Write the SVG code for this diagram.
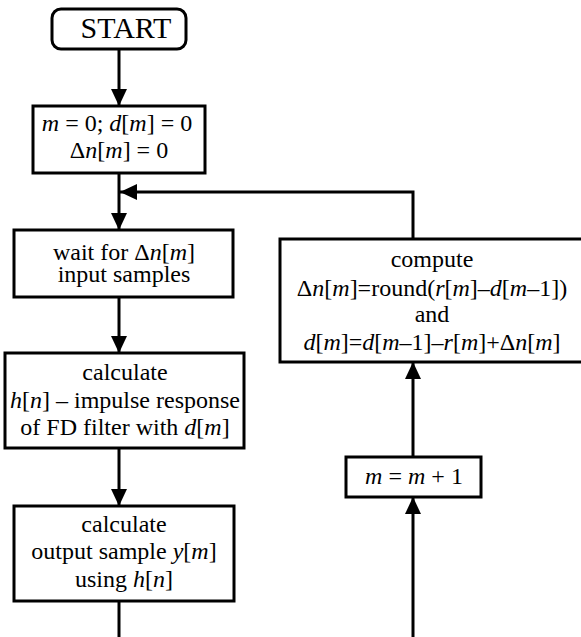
<svg xmlns="http://www.w3.org/2000/svg" width="581" height="637" viewBox="0 0 581 637">
<style>
.box{fill:#fff;stroke:#000;stroke-width:3}
.ln{fill:none;stroke:#000;stroke-width:3}
.t{font-family:'Liberation Serif','Times New Roman',serif;font-size:24px;fill:#000;text-anchor:middle}
.big{font-size:30px}
.i{font-style:italic}
</style>
<defs>
<marker id="ah" markerUnits="userSpaceOnUse" markerWidth="18" markerHeight="16" refX="17" refY="8" orient="auto">
<path d="M0,0 L17,8 L0,16 Z" fill="#000"/>
</marker>
</defs>
<g id="connectors">
<line class="ln" x1="119" y1="49" x2="119" y2="106" marker-end="url(#ah)"/>
<line class="ln" x1="119" y1="173" x2="119" y2="230" marker-end="url(#ah)"/>
<polyline class="ln" points="413,239 413,192 120,192" marker-end="url(#ah)"/>
<line class="ln" x1="119" y1="297" x2="119" y2="353" marker-end="url(#ah)"/>
<line class="ln" x1="119" y1="448" x2="119" y2="506" marker-end="url(#ah)"/>
<line class="ln" x1="119" y1="601" x2="119" y2="637"/>
<line class="ln" x1="413" y1="637" x2="413" y2="497" marker-end="url(#ah)"/>
<line class="ln" x1="413" y1="457" x2="413" y2="362" marker-end="url(#ah)"/>
</g>
<g id="start">
<rect class="box" x="52" y="9" width="134" height="40" rx="9"/>
<text class="t big" x="126" y="38">START</text>
</g>
<g id="init">
<rect class="box" x="33" y="106" width="172" height="67"/>
<text class="t" x="117" y="131"><tspan class="i">m</tspan> = 0; <tspan class="i">d</tspan>[<tspan class="i">m</tspan>] = 0</text>
<text class="t" x="119" y="158">Δ<tspan class="i">n</tspan>[<tspan class="i">m</tspan>] = 0</text>
</g>
<g id="wait">
<rect class="box" x="14" y="230" width="219" height="67"/>
<text class="t" x="124" y="260">wait for Δ<tspan class="i">n</tspan>[<tspan class="i">m</tspan>]</text>
<text class="t" x="124" y="282">input samples</text>
</g>
<g id="calc-h">
<rect class="box" x="5" y="353" width="239" height="95"/>
<text class="t" x="125" y="380">calculate</text>
<text class="t" x="125" y="408"><tspan class="i">h</tspan>[<tspan class="i">n</tspan>] – impulse response</text>
<text class="t" x="125" y="435">of FD filter with <tspan class="i">d</tspan>[<tspan class="i">m</tspan>]</text>
</g>
<g id="calc-y">
<rect class="box" x="14" y="506" width="220" height="95"/>
<text class="t" x="124" y="532">calculate</text>
<text class="t" x="124" y="559">output sample <tspan class="i">y</tspan>[<tspan class="i">m</tspan>]</text>
<text class="t" x="124" y="587">using <tspan class="i">h</tspan>[<tspan class="i">n</tspan>]</text>
</g>
<g id="compute">
<rect class="box" x="280" y="239" width="320" height="123"/>
<text class="t" x="432" y="267">compute</text>
<text class="t" x="432" y="296">Δ<tspan class="i">n</tspan>[<tspan class="i">m</tspan>]=round(<tspan class="i">r</tspan>[<tspan class="i">m</tspan>]–<tspan class="i">d</tspan>[<tspan class="i">m</tspan>–1])</text>
<text class="t" x="432" y="322">and</text>
<text class="t" x="432" y="350"><tspan class="i">d</tspan>[<tspan class="i">m</tspan>]=<tspan class="i">d</tspan>[<tspan class="i">m</tspan>–1]–<tspan class="i">r</tspan>[<tspan class="i">m</tspan>]+Δ<tspan class="i">n</tspan>[<tspan class="i">m</tspan>]</text>
</g>
<g id="increment">
<rect class="box" x="346" y="457" width="135" height="40"/>
<text class="t" x="414" y="484"><tspan class="i">m</tspan> = <tspan class="i">m</tspan> + 1</text>
</g>
</svg>
